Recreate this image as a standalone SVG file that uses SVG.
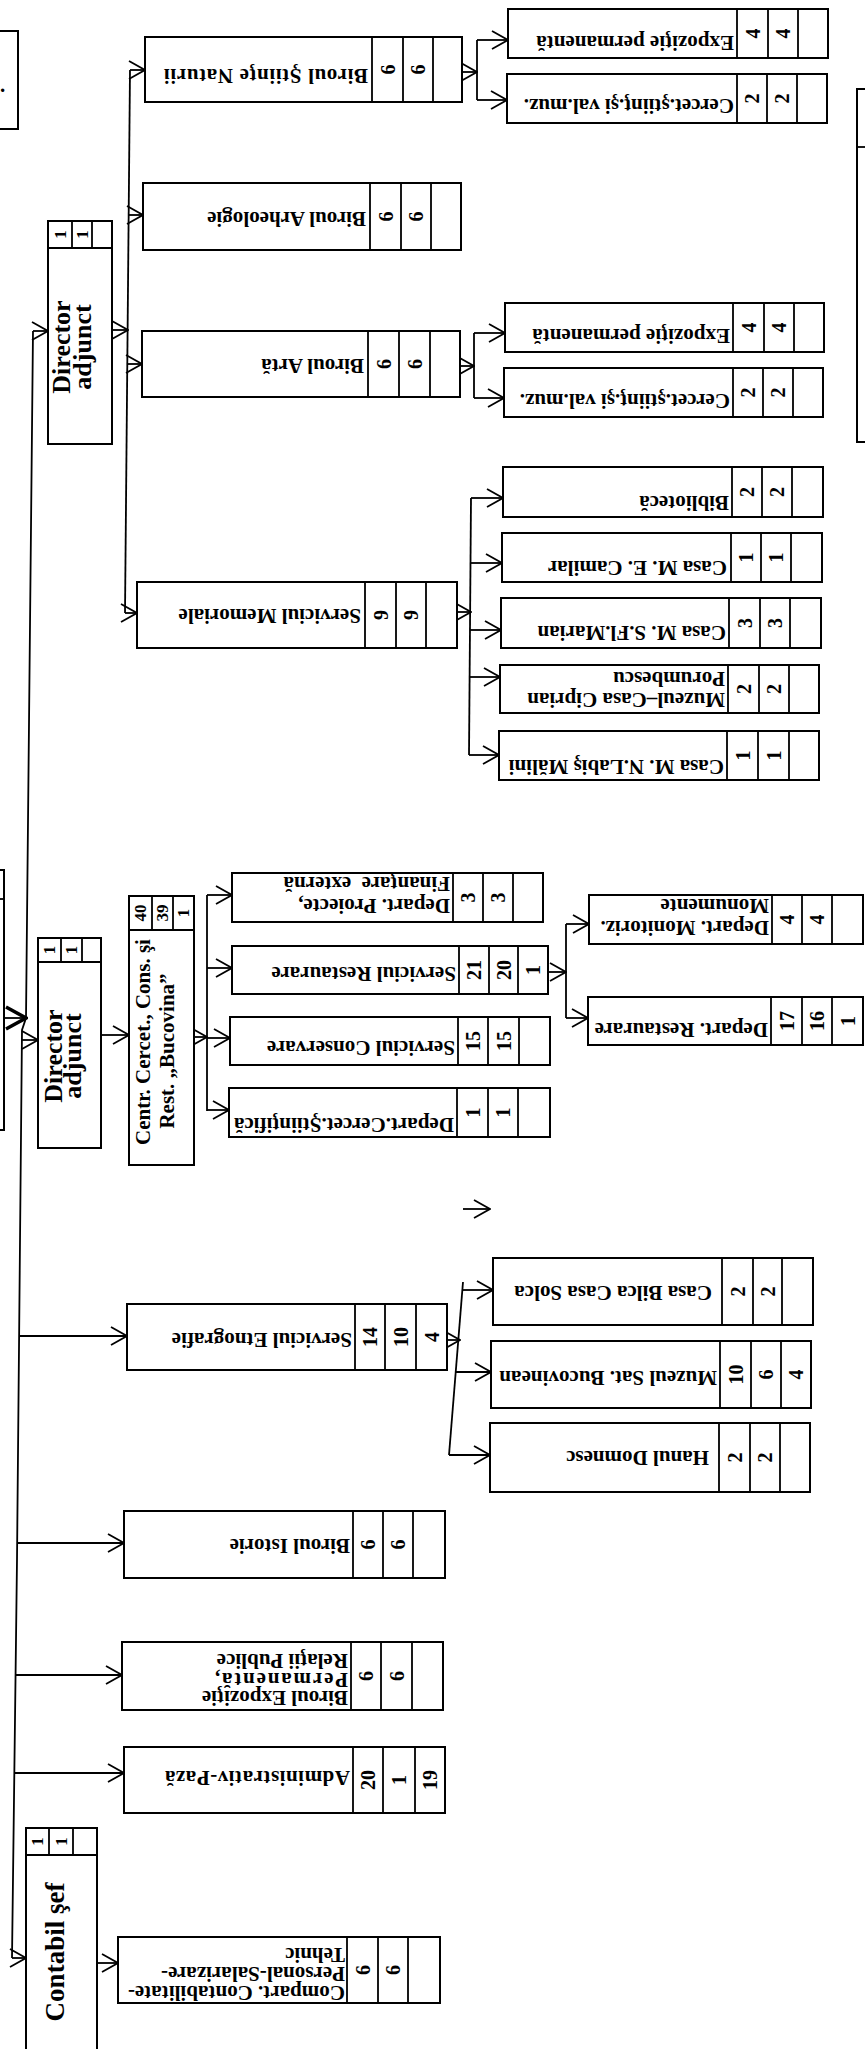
<svg xmlns="http://www.w3.org/2000/svg" width="865" height="2049" viewBox="0 0 865 2049">
<style>
.bx{fill:#fff;stroke:#000;stroke-width:2}
.dv{fill:none;stroke:#000;stroke-width:1.8}
.ln{fill:none;stroke:#000;stroke-width:1.8}
.ar{marker-end:url(#ah)}
.lb{font-family:"Liberation Serif",serif;font-weight:bold;font-size:21px;fill:#000}
.hd{font-family:"Liberation Serif",serif;font-weight:bold;font-size:26px;fill:#000;text-anchor:middle}
.nm{font-family:"Liberation Serif",serif;font-weight:bold;font-size:20px;fill:#000;text-anchor:middle;dominant-baseline:central}
.hn{font-family:"Liberation Serif",serif;font-weight:bold;font-size:17px;fill:#000;text-anchor:middle;dominant-baseline:central}
</style>
<defs>
<marker id="ah" viewBox="0 0 18 20" refX="17" refY="10" markerWidth="18" markerHeight="20" markerUnits="userSpaceOnUse" orient="auto"><path d="M1 1L17 10L1 19" fill="none" stroke="#000" stroke-width="1.8"/></marker>
<marker id="ahb" viewBox="0 0 24 26" refX="22" refY="13" markerWidth="24" markerHeight="26" markerUnits="userSpaceOnUse" orient="auto"><path d="M2 2L22 13L2 24" fill="none" stroke="#000" stroke-width="3.5"/></marker>
</defs>
<rect x="0" y="0" width="865" height="2049" fill="#fff"/>

<g id="connectors">
<polyline class="ln" points="33,331 26,1018 22,1030 17,1560 12,1958"/>
<line class="ln ar" x1="33" y1="331" x2="48" y2="331"/>
<line class="ln" x1="0" y1="1018" x2="26" y2="1018" stroke-width="2.5" marker-end="url(#ahb)"/>
<line class="ln ar" x1="22" y1="1040" x2="38" y2="1040"/>
<line class="ln ar" x1="19" y1="1336" x2="127" y2="1336"/>
<line class="ln ar" x1="17" y1="1543" x2="124" y2="1543"/>
<line class="ln ar" x1="16" y1="1675" x2="122" y2="1675"/>
<line class="ln ar" x1="14" y1="1773" x2="124" y2="1773"/>
<line class="ln ar" x1="12" y1="1958" x2="26" y2="1958"/>

<line class="ln ar" x1="112" y1="330" x2="128" y2="330"/>
<line class="ln" x1="130" y1="70" x2="125" y2="613"/>
<line class="ln ar" x1="130" y1="70" x2="145" y2="70"/>
<line class="ln ar" x1="129" y1="215" x2="143" y2="215"/>
<line class="ln ar" x1="128" y1="364" x2="142" y2="364"/>
<line class="ln ar" x1="125" y1="613" x2="137" y2="613"/>

<line class="ln ar" x1="462" y1="72" x2="477" y2="72"/>
<line class="ln" x1="477" y1="40" x2="477" y2="100"/>
<line class="ln ar" x1="477" y1="40" x2="508" y2="40"/>
<line class="ln ar" x1="477" y1="100" x2="507" y2="100"/>

<line class="ln ar" x1="460" y1="366" x2="474" y2="366"/>
<line class="ln" x1="474" y1="333" x2="474" y2="398"/>
<line class="ln ar" x1="474" y1="333" x2="505" y2="333"/>
<line class="ln ar" x1="474" y1="398" x2="504" y2="398"/>

<line class="ln ar" x1="457" y1="612" x2="471" y2="612"/>
<line class="ln" x1="471" y1="498" x2="469" y2="755"/>
<line class="ln ar" x1="471" y1="498" x2="503" y2="498"/>
<line class="ln ar" x1="471" y1="563" x2="502" y2="563"/>
<line class="ln ar" x1="470" y1="630" x2="501" y2="630"/>
<line class="ln ar" x1="470" y1="677" x2="500" y2="677"/>
<line class="ln ar" x1="469" y1="755" x2="499" y2="755"/>

<line class="ln ar" x1="101" y1="1035" x2="129" y2="1035"/>
<line class="ln ar" x1="194" y1="1037" x2="207" y2="1037"/>
<line class="ln" x1="207" y1="895" x2="207" y2="1111"/>
<line class="ln ar" x1="207" y1="895" x2="232" y2="895"/>
<line class="ln ar" x1="207" y1="968" x2="232" y2="968"/>
<line class="ln ar" x1="207" y1="1038" x2="230" y2="1038"/>
<line class="ln ar" x1="207" y1="1110" x2="229" y2="1110"/>

<line class="ln ar" x1="548" y1="972" x2="566" y2="972"/>
<line class="ln" x1="566" y1="924" x2="566" y2="1018"/>
<line class="ln ar" x1="566" y1="924" x2="589" y2="924"/>
<line class="ln ar" x1="566" y1="1018" x2="588" y2="1018"/>

<line class="ln ar" x1="463" y1="1209" x2="490" y2="1209"/>

<line class="ln ar" x1="447" y1="1340" x2="460" y2="1340"/>
<line class="ln" x1="463" y1="1282" x2="449" y2="1455"/>
<line class="ln ar" x1="462" y1="1290" x2="493" y2="1290"/>
<line class="ln ar" x1="456" y1="1372" x2="491" y2="1372"/>
<line class="ln ar" x1="449" y1="1455" x2="490" y2="1455"/>

<line class="ln ar" x1="97" y1="1963" x2="118" y2="1963"/>
</g>

<g id="n-partial-top">
<rect class="bx" x="-10" y="31" width="28" height="98"/>
<text class="lb" x="0" y="92">.</text>
</g>

<g id="n-partial-mid">
<rect class="bx" x="-10" y="870" width="14" height="260"/>
<path class="dv" d="M-10 899H4"/>
</g>

<g id="n-partial-right">
<rect class="bx" x="857" y="89" width="20" height="353"/>
<path class="dv" d="M857 147H865"/>
</g>

<g id="n-director-adjunct-1">
<rect class="bx" x="48" y="221" width="64" height="223"/>
<path class="dv" d="M48 248H112M72 221V248M92 221V248"/>
<text class="hn" x="60" y="234.5" transform="rotate(-90 60 234.5)">1</text>
<text class="hn" x="82" y="234.5" transform="rotate(-90 82 234.5)">1</text>
<text class="hd" x="70" y="347" transform="rotate(-90 70 347)">Director</text>
<text class="hd" x="91" y="347" transform="rotate(-90 91 347)">adjunct</text>
</g>

<g id="n-biroul-stiinte-naturii">
<rect class="bx" x="145" y="37" width="317" height="65"/>
<path class="dv" d="M372 37V102M403 37V102M433 37V102"/>
<text class="lb" x="368" y="69" transform="rotate(180 368 69)" textLength="204" lengthAdjust="spacing">Biroul Ştiinţe Naturii</text>
<text class="nm" x="387.5" y="69.5" transform="rotate(-90 387.5 69.5)">6</text>
<text class="nm" x="418" y="69.5" transform="rotate(-90 418 69.5)">6</text>
</g>

<g id="n-biroul-arheologie">
<rect class="bx" x="143" y="183" width="318" height="67"/>
<path class="dv" d="M370 183V250M401 183V250M431 183V250"/>
<text class="lb" x="366" y="212" transform="rotate(180 366 212)">Biroul Arheologie</text>
<text class="nm" x="385.5" y="216.5" transform="rotate(-90 385.5 216.5)">6</text>
<text class="nm" x="416" y="216.5" transform="rotate(-90 416 216.5)">6</text>
</g>

<g id="n-biroul-arta">
<rect class="bx" x="142" y="331" width="318" height="66"/>
<path class="dv" d="M368 331V397M399 331V397M430 331V397"/>
<text class="lb" x="364" y="359" transform="rotate(180 364 359)">Biroul Artă</text>
<text class="nm" x="383.5" y="364" transform="rotate(-90 383.5 364)">6</text>
<text class="nm" x="414.5" y="364" transform="rotate(-90 414.5 364)">6</text>
</g>

<g id="n-serviciul-memoriale">
<rect class="bx" x="137" y="582" width="320" height="66"/>
<path class="dv" d="M365 582V648M396 582V648M426 582V648"/>
<text class="lb" x="361" y="609" transform="rotate(180 361 609)">Serviciul Memoriale</text>
<text class="nm" x="380.5" y="615" transform="rotate(-90 380.5 615)">9</text>
<text class="nm" x="411" y="615" transform="rotate(-90 411 615)">9</text>
</g>

<g id="n-expozitie-1">
<rect class="bx" x="508" y="9" width="320" height="49"/>
<path class="dv" d="M737 9V58M768 9V58M798 9V58"/>
<text class="lb" x="734" y="36" transform="rotate(180 734 36)">Expoziţie permanentă</text>
<text class="nm" x="752.5" y="33.5" transform="rotate(-90 752.5 33.5)">4</text>
<text class="nm" x="783" y="33.5" transform="rotate(-90 783 33.5)">4</text>
</g>

<g id="n-cercet-1">
<rect class="bx" x="507" y="74" width="320" height="49"/>
<path class="dv" d="M737 74V123M767 74V123M797 74V123"/>
<text class="lb" x="734" y="99" transform="rotate(180 734 99)">Cercet.ştiinţ.şi val.muz.</text>
<text class="nm" x="752" y="98.5" transform="rotate(-90 752 98.5)">2</text>
<text class="nm" x="782" y="98.5" transform="rotate(-90 782 98.5)">2</text>
</g>

<g id="n-expozitie-2">
<rect class="bx" x="505" y="303" width="319" height="49"/>
<path class="dv" d="M733 303V352M764 303V352M794 303V352"/>
<text class="lb" x="730" y="329" transform="rotate(180 730 329)">Expoziţie permanentă</text>
<text class="nm" x="748.5" y="327.5" transform="rotate(-90 748.5 327.5)">4</text>
<text class="nm" x="779" y="327.5" transform="rotate(-90 779 327.5)">4</text>
</g>

<g id="n-cercet-2">
<rect class="bx" x="504" y="368" width="319" height="49"/>
<path class="dv" d="M733 368V417M763 368V417M793 368V417"/>
<text class="lb" x="730" y="394" transform="rotate(180 730 394)">Cercet.ştiinţ.şi val.muz.</text>
<text class="nm" x="748" y="392.5" transform="rotate(-90 748 392.5)">2</text>
<text class="nm" x="778" y="392.5" transform="rotate(-90 778 392.5)">2</text>
</g>

<g id="n-biblioteca">
<rect class="bx" x="503" y="467" width="320" height="50"/>
<path class="dv" d="M732 467V517M762 467V517M792 467V517"/>
<text class="lb" x="729" y="496" transform="rotate(180 729 496)">Bibliotecă</text>
<text class="nm" x="747" y="492" transform="rotate(-90 747 492)">2</text>
<text class="nm" x="777" y="492" transform="rotate(-90 777 492)">2</text>
</g>

<g id="n-casa-camilar">
<rect class="bx" x="502" y="533" width="320" height="49"/>
<path class="dv" d="M731 533V582M761 533V582M791 533V582"/>
<text class="lb" x="727" y="561" transform="rotate(180 727 561)">Casa M. E. Camilar</text>
<text class="nm" x="746" y="557.5" transform="rotate(-90 746 557.5)">1</text>
<text class="nm" x="776" y="557.5" transform="rotate(-90 776 557.5)">1</text>
</g>

<g id="n-casa-marian">
<rect class="bx" x="501" y="598" width="320" height="50"/>
<path class="dv" d="M729 598V648M760 598V648M790 598V648"/>
<text class="lb" x="726" y="626" transform="rotate(180 726 626)">Casa M. S.Fl.Marian</text>
<text class="nm" x="744.5" y="623" transform="rotate(-90 744.5 623)">3</text>
<text class="nm" x="775" y="623" transform="rotate(-90 775 623)">3</text>
</g>

<g id="n-muzeul-casa-porumbescu">
<rect class="bx" x="500" y="665" width="319" height="48"/>
<path class="dv" d="M728 665V713M759 665V713M789 665V713"/>
<text class="lb" x="725" y="693" transform="rotate(180 725 693)">Muzeul–Casa Ciprian</text>
<text class="lb" x="725" y="672" transform="rotate(180 725 672)">Porumbescu</text>
<text class="nm" x="743.5" y="689" transform="rotate(-90 743.5 689)">2</text>
<text class="nm" x="774" y="689" transform="rotate(-90 774 689)">2</text>
</g>

<g id="n-casa-labis">
<rect class="bx" x="499" y="731" width="320" height="49"/>
<path class="dv" d="M727 731V780M758 731V780M789 731V780"/>
<text class="lb" x="724" y="760" transform="rotate(180 724 760)">Casa M. N.Labiş Mălini</text>
<text class="nm" x="742.5" y="755.5" transform="rotate(-90 742.5 755.5)">1</text>
<text class="nm" x="773.5" y="755.5" transform="rotate(-90 773.5 755.5)">1</text>
</g>

<g id="n-director-adjunct-2">
<rect class="bx" x="38" y="938" width="63" height="210"/>
<path class="dv" d="M38 962H101M61 938V962M82 938V962"/>
<text class="hn" x="49.5" y="950" transform="rotate(-90 49.5 950)">1</text>
<text class="hn" x="71.5" y="950" transform="rotate(-90 71.5 950)">1</text>
<text class="hd" x="62" y="1056" transform="rotate(-90 62 1056)">Director</text>
<text class="hd" x="81" y="1056" transform="rotate(-90 81 1056)">adjunct</text>
</g>

<g id="n-centr-bucovina">
<rect class="bx" x="129" y="896" width="65" height="269"/>
<path class="dv" d="M129 930H194M152 896V930M173 896V930"/>
<text class="hn" x="140.5" y="913" transform="rotate(-90 140.5 913)">40</text>
<text class="hn" x="162.5" y="913" transform="rotate(-90 162.5 913)">39</text>
<text class="hn" x="183.5" y="913" transform="rotate(-90 183.5 913)">1</text>
<text class="lb" x="150" y="1042" text-anchor="middle" transform="rotate(-90 150 1042)">Centr. Cercet., Cons. şi</text>
<text class="lb" x="174" y="1051" text-anchor="middle" transform="rotate(-90 174 1051)">Rest. „Bucovina”</text>
</g>

<g id="n-depart-proiecte">
<rect class="bx" x="232" y="873" width="311" height="49"/>
<path class="dv" d="M453 873V922M483 873V922M513 873V922"/>
<text class="lb" x="450" y="899" transform="rotate(180 450 899)">Depart. Proiecte,</text>
<text class="lb" x="450" y="877" transform="rotate(180 450 877)" xml:space="preserve">Finanţare  externă</text>
<text class="nm" x="468" y="897.5" transform="rotate(-90 468 897.5)">3</text>
<text class="nm" x="498" y="897.5" transform="rotate(-90 498 897.5)">3</text>
</g>

<g id="n-serviciul-restaurare">
<rect class="bx" x="232" y="946" width="316" height="48"/>
<path class="dv" d="M459 946V994M489 946V994M518 946V994"/>
<text class="lb" x="456" y="967" transform="rotate(180 456 967)">Serviciul Restaurare</text>
<text class="nm" x="474" y="970" transform="rotate(-90 474 970)">21</text>
<text class="nm" x="503.5" y="970" transform="rotate(-90 503.5 970)">20</text>
<text class="nm" x="533" y="970" transform="rotate(-90 533 970)">1</text>
</g>

<g id="n-serviciul-conservare">
<rect class="bx" x="230" y="1017" width="320" height="48"/>
<path class="dv" d="M458 1017V1065M488 1017V1065M519 1017V1065"/>
<text class="lb" x="455" y="1041" transform="rotate(180 455 1041)">Serviciul Conservare</text>
<text class="nm" x="473" y="1041" transform="rotate(-90 473 1041)">15</text>
<text class="nm" x="503.5" y="1041" transform="rotate(-90 503.5 1041)">15</text>
</g>

<g id="n-depart-cercet-stiintifica">
<rect class="bx" x="229" y="1088" width="321" height="49"/>
<path class="dv" d="M457 1088V1137M488 1088V1137M518 1088V1137"/>
<text class="lb" x="454" y="1118" transform="rotate(180 454 1118)">Depart.Cercet.Ştiinţifică</text>
<text class="nm" x="472.5" y="1112.5" transform="rotate(-90 472.5 1112.5)">1</text>
<text class="nm" x="503" y="1112.5" transform="rotate(-90 503 1112.5)">1</text>
</g>

<g id="n-depart-monitoriz">
<rect class="bx" x="589" y="895" width="274" height="49"/>
<path class="dv" d="M772 895V944M802 895V944M832 895V944"/>
<text class="lb" x="769" y="921" transform="rotate(180 769 921)">Depart. Monitoriz.</text>
<text class="lb" x="769" y="899" transform="rotate(180 769 899)">Monumente</text>
<text class="nm" x="787" y="919.5" transform="rotate(-90 787 919.5)">4</text>
<text class="nm" x="817" y="919.5" transform="rotate(-90 817 919.5)">4</text>
</g>

<g id="n-depart-restaurare">
<rect class="bx" x="588" y="997" width="275" height="48"/>
<path class="dv" d="M771 997V1045M802 997V1045M832 997V1045"/>
<text class="lb" x="768" y="1023" transform="rotate(180 768 1023)">Depart. Restaurare</text>
<text class="nm" x="786.5" y="1021" transform="rotate(-90 786.5 1021)">17</text>
<text class="nm" x="817" y="1021" transform="rotate(-90 817 1021)">16</text>
<text class="nm" x="847.5" y="1021" transform="rotate(-90 847.5 1021)">1</text>
</g>

<g id="n-serviciul-etnografie">
<rect class="bx" x="127" y="1304" width="320" height="66"/>
<path class="dv" d="M355 1304V1370M385 1304V1370M416 1304V1370"/>
<text class="lb" x="352" y="1333" transform="rotate(180 352 1333)">Serviciul Etnografie</text>
<text class="nm" x="370" y="1337" transform="rotate(-90 370 1337)">14</text>
<text class="nm" x="400.5" y="1337" transform="rotate(-90 400.5 1337)">10</text>
<text class="nm" x="431.5" y="1337" transform="rotate(-90 431.5 1337)">4</text>
</g>

<g id="n-casa-bilca">
<rect class="bx" x="493" y="1258" width="320" height="67"/>
<path class="dv" d="M722 1258V1325M753 1258V1325M782 1258V1325"/>
<text class="lb" x="712" y="1286" transform="rotate(180 712 1286)">Casa Bilca Casa Solca</text>
<text class="nm" x="737.5" y="1291.5" transform="rotate(-90 737.5 1291.5)">2</text>
<text class="nm" x="767.5" y="1291.5" transform="rotate(-90 767.5 1291.5)">2</text>
</g>

<g id="n-muzeul-sat">
<rect class="bx" x="491" y="1341" width="320" height="67"/>
<path class="dv" d="M720 1341V1408M751 1341V1408M781 1341V1408"/>
<text class="lb" x="717" y="1371" transform="rotate(180 717 1371)">Muzeul Sat. Bucovinean</text>
<text class="nm" x="735.5" y="1374.5" transform="rotate(-90 735.5 1374.5)">10</text>
<text class="nm" x="766" y="1374.5" transform="rotate(-90 766 1374.5)">6</text>
<text class="nm" x="796" y="1374.5" transform="rotate(-90 796 1374.5)">4</text>
</g>

<g id="n-hanul-domnesc">
<rect class="bx" x="490" y="1423" width="320" height="69"/>
<path class="dv" d="M719 1423V1492M750 1423V1492M780 1423V1492"/>
<text class="lb" x="709" y="1451" transform="rotate(180 709 1451)">Hanul Domnesc</text>
<text class="nm" x="734.5" y="1457.5" transform="rotate(-90 734.5 1457.5)">2</text>
<text class="nm" x="765" y="1457.5" transform="rotate(-90 765 1457.5)">2</text>
</g>

<g id="n-biroul-istorie">
<rect class="bx" x="124" y="1511" width="321" height="67"/>
<path class="dv" d="M353 1511V1578M383 1511V1578M413 1511V1578"/>
<text class="lb" x="350" y="1539" transform="rotate(180 350 1539)">Biroul Istorie</text>
<text class="nm" x="368" y="1544.5" transform="rotate(-90 368 1544.5)">6</text>
<text class="nm" x="398" y="1544.5" transform="rotate(-90 398 1544.5)">6</text>
</g>

<g id="n-biroul-expozitie-relatii">
<rect class="bx" x="122" y="1642" width="321" height="68"/>
<path class="dv" d="M351 1642V1710M381 1642V1710M412 1642V1710"/>
<text class="lb" x="348" y="1691" transform="rotate(180 348 1691)">Biroul Expoziţie</text>
<text class="lb" x="348" y="1673" transform="rotate(180 348 1673)" textLength="133" lengthAdjust="spacing">Permanentă,</text>
<text class="lb" x="348" y="1654" transform="rotate(180 348 1654)">Relaţii Publice</text>
<text class="nm" x="366" y="1676" transform="rotate(-90 366 1676)">6</text>
<text class="nm" x="396.5" y="1676" transform="rotate(-90 396.5 1676)">6</text>
</g>

<g id="n-administrativ-paza">
<rect class="bx" x="124" y="1747" width="321" height="66"/>
<path class="dv" d="M353 1747V1813M383 1747V1813M415 1747V1813"/>
<text class="lb" x="350" y="1771" transform="rotate(180 350 1771)" textLength="185" lengthAdjust="spacing">Administrativ-Pază</text>
<text class="nm" x="368" y="1780" transform="rotate(-90 368 1780)">20</text>
<text class="nm" x="399" y="1780" transform="rotate(-90 399 1780)">1</text>
<text class="nm" x="430" y="1780" transform="rotate(-90 430 1780)">19</text>
</g>

<g id="n-contabil-sef">
<rect class="bx" x="26" y="1828" width="71" height="222"/>
<path class="dv" d="M26 1855H97M49 1828V1855M73 1828V1855"/>
<text class="hn" x="37.5" y="1841.5" transform="rotate(-90 37.5 1841.5)">1</text>
<text class="hn" x="61" y="1841.5" transform="rotate(-90 61 1841.5)">1</text>
<text class="hd" x="64" y="1952" style="font-size:27px" transform="rotate(-90 64 1952)">Contabil şef</text>
</g>

<g id="n-compart-contabilitate">
<rect class="bx" x="118" y="1937" width="322" height="66"/>
<path class="dv" d="M347 1937V2003M378 1937V2003M408 1937V2003"/>
<text class="lb" x="345" y="1986" transform="rotate(180 345 1986)">Compart. Contabilitate-</text>
<text class="lb" x="345" y="1967" transform="rotate(180 345 1967)">Personal-Salarizare-</text>
<text class="lb" x="345" y="1948" transform="rotate(180 345 1948)">Tehnic</text>
<text class="nm" x="362.5" y="1970" transform="rotate(-90 362.5 1970)">6</text>
<text class="nm" x="393" y="1970" transform="rotate(-90 393 1970)">6</text>
</g>
</svg>
